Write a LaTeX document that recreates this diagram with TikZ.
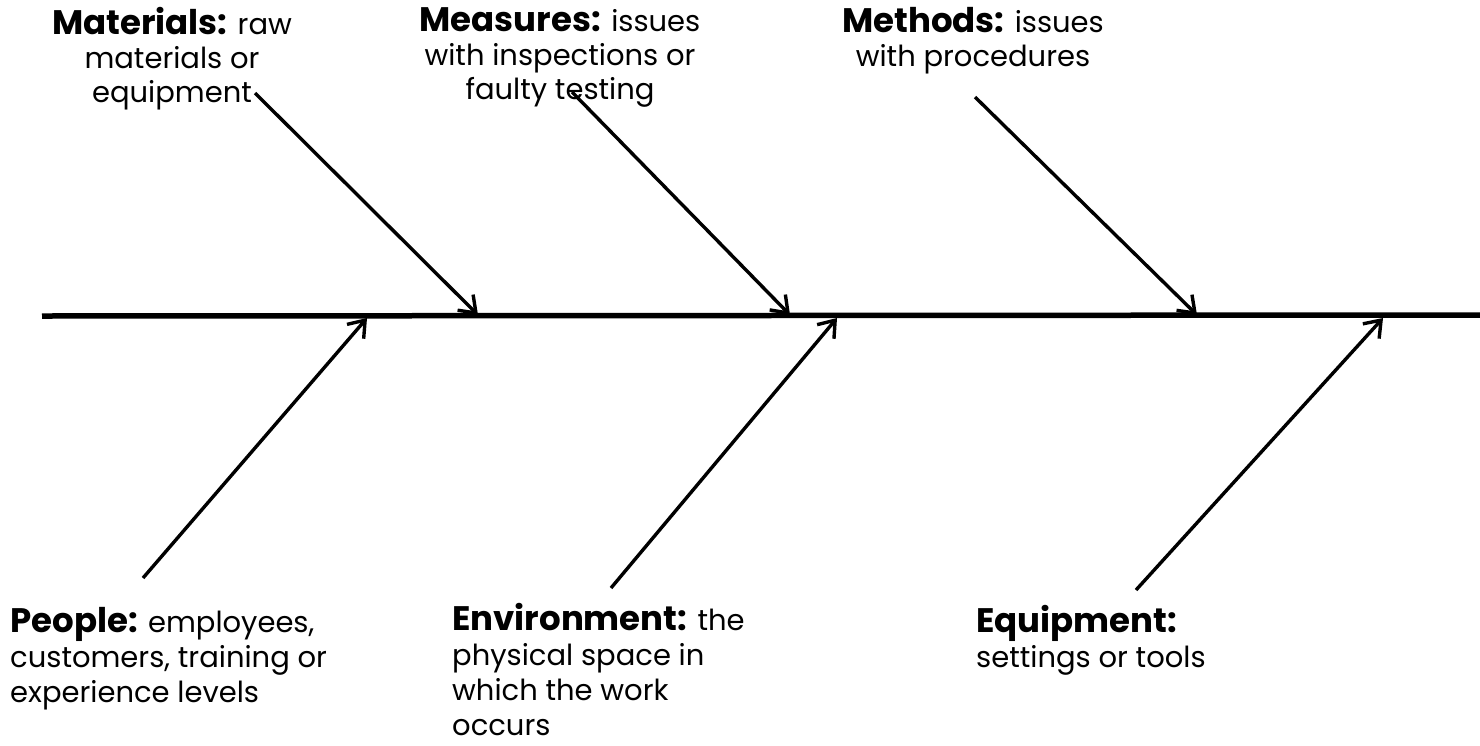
\documentclass[tikz,border=0pt]{standalone}
\usepackage{fontspec}
\setmainfont{Poppins}
\usetikzlibrary{arrows.meta}
\tikzset{
  spine/.style={line width=5.5pt},
  bone/.style={line width=3.4pt,-{Straight Barb[length=15pt,width=22pt,line width=3.4pt]}},
  lbl/.style={inner sep=0pt,font=\fontsize{29}{34}\selectfont},
  lblb/.style={inner sep=0pt,font=\fontsize{29}{35}\selectfont},
}
\newcommand{\hd}[1]{{\fontsize{34}{34}\selectfont\bfseries #1}}
\begin{document}
\begin{tikzpicture}[x=1pt,y=-1pt]
\useasboundingbox (0,0) rectangle (1480,745);
% spine
\coordinate (s0) at (42,316);
\coordinate (s1) at (1480,315);
\draw[spine] (s0) -- (s1);
% upper bones
\coordinate (a1) at (255,93);  \coordinate (b1) at (478,315);
\coordinate (a2) at (572,92);  \coordinate (b2) at (790,315);
\coordinate (a3) at (975,97);  \coordinate (b3) at (1197,315);
\draw[bone] (a1) -- (b1);
\draw[bone] (a2) -- (b2);
\draw[bone] (a3) -- (b3);
% lower bones
\coordinate (c1) at (143,578); \coordinate (d1) at (367,318);
\coordinate (c2) at (611,588); \coordinate (d2) at (837,318);
\coordinate (c3) at (1136,590);\coordinate (d3) at (1383,318);
\draw[bone] (c1) -- (d1);
\draw[bone] (c2) -- (d2);
\draw[bone] (c3) -- (d3);
% labels
\node[lbl,align=center,anchor=north] (mat) at (172,7) {\hd{Materials:} raw\\materials or\\equipment};
\node[lbl,align=center,anchor=north] (mea) at (560,7) {\hd{Measures:} issues\\with inspections or\\faulty testing};
\node[lbl,align=center,anchor=north] (met) at (973,7) {\hd{Methods:} issues\\with procedures};
\node[lblb,align=left,anchor=north west] (peo) at (10,607) {\hd{People:} employees,\\customers, training or\\experience levels};
\node[lblb,align=left,anchor=north west] (env) at (452,603) {\hd{Environment:} the\\physical space in\\which the work\\occurs};
\node[lblb,align=left,anchor=north west] (equ) at (976,605) {\hd{Equipment:}\\settings or tools};
\end{tikzpicture}
\end{document}
